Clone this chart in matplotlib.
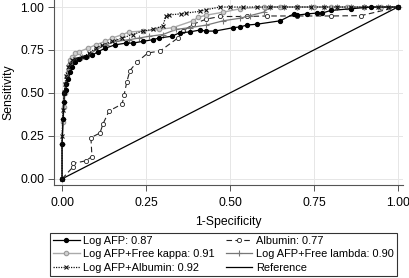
import matplotlib
matplotlib.use("Agg")
import matplotlib.pyplot as plt

plt.rcParams['font.family'] = ['Liberation Sans', 'DejaVu Sans']

# ROC points (1-specificity, sensitivity)
fpr_logafp = [0, 0, 0.003, 0.006, 0.006, 0.012, 0.012, 0.018, 0.024, 0.03, 0.04, 0.05, 0.07, 0.09,
              0.107, 0.128, 0.158, 0.19, 0.21, 0.24, 0.27, 0.29, 0.327, 0.35, 0.38, 0.41, 0.43, 0.455,
              0.51, 0.53, 0.55, 0.58, 0.65, 0.69, 0.70, 0.73, 0.76, 0.775, 0.80, 0.86, 0.92, 1.0]
tpr_logafp = [0, 0.2, 0.35, 0.45, 0.5, 0.52, 0.55, 0.58, 0.62, 0.65, 0.68, 0.70, 0.71, 0.72,
              0.74, 0.76, 0.78, 0.79, 0.79, 0.80, 0.81, 0.82, 0.83, 0.85, 0.855, 0.866, 0.86, 0.86,
              0.88, 0.884, 0.895, 0.90, 0.92, 0.96, 0.953, 0.96, 0.965, 0.965, 0.98, 0.99, 1.0, 1.0]

fpr_alb = [0, 0.0, 0.033, 0.033, 0.071, 0.089, 0.086, 0.113, 0.122, 0.14, 0.179, 0.185, 0.193,
           0.202, 0.223, 0.256, 0.292, 0.345, 0.36, 0.39, 0.43, 0.47, 0.55, 0.61, 0.70, 0.80, 0.89, 1.0]
tpr_alb = [0, 0.0, 0.07, 0.09, 0.105, 0.13, 0.24, 0.267, 0.32, 0.395, 0.436, 0.49, 0.565,
           0.63, 0.68, 0.733, 0.744, 0.82, 0.86, 0.90, 0.93, 0.945, 0.945, 0.948, 0.948, 0.948, 0.95, 1.0]

fpr_kappa = [0, 0, 0.003, 0.006, 0.009, 0.012, 0.015, 0.02, 0.025, 0.03, 0.04, 0.05, 0.077, 0.10,
             0.128, 0.15, 0.18, 0.20, 0.24, 0.29, 0.33, 0.39, 0.405, 0.43, 0.48, 0.53, 0.6, 0.65,
             0.7, 0.75, 0.8, 0.85, 0.9, 0.95, 1.0]
tpr_kappa = [0, 0.2, 0.33, 0.42, 0.5, 0.55, 0.6, 0.66, 0.69, 0.71, 0.73, 0.74, 0.76, 0.78,
             0.80, 0.82, 0.84, 0.855, 0.86, 0.87, 0.88, 0.92, 0.94, 0.953, 0.97, 0.99, 1.0, 1.0,
             1.0, 1.0, 1.0, 1.0, 1.0, 1.0, 1.0]

fpr_lambda = [0, 0, 0.003, 0.006, 0.009, 0.012, 0.018, 0.024, 0.03, 0.04, 0.06, 0.08, 0.10, 0.13,
              0.16, 0.20, 0.23, 0.26, 0.3, 0.34, 0.38, 0.43, 0.48, 0.53, 0.56, 0.6, 0.62, 0.66,
              0.7, 0.74, 0.78, 0.82, 0.86, 0.9, 0.94, 0.97, 1.0]
tpr_lambda = [0, 0.2, 0.35, 0.45, 0.52, 0.56, 0.62, 0.66, 0.68, 0.70, 0.71, 0.72, 0.75, 0.78,
              0.80, 0.81, 0.82, 0.83, 0.84, 0.87, 0.88, 0.895, 0.92, 0.935, 0.95, 0.97, 1.0, 1.0,
              1.0, 1.0, 1.0, 1.0, 1.0, 1.0, 1.0, 1.0, 1.0]

fpr_afpalb = [0, 0, 0.003, 0.006, 0.009, 0.012, 0.018, 0.024, 0.03, 0.04, 0.06, 0.08, 0.10, 0.12,
              0.15, 0.18, 0.21, 0.24, 0.27, 0.30, 0.31, 0.32, 0.355, 0.37, 0.41, 0.43, 0.47, 0.5,
              0.54, 0.58, 0.62, 0.66, 0.7, 0.74, 0.78, 0.82, 0.86, 0.9, 0.94, 0.97, 1.0]
tpr_afpalb = [0, 0.25, 0.4, 0.5, 0.55, 0.6, 0.65, 0.67, 0.69, 0.70, 0.71, 0.73, 0.76, 0.78,
              0.80, 0.82, 0.84, 0.86, 0.87, 0.89, 0.95, 0.955, 0.96, 0.965, 0.975, 0.985, 1.0, 1.0,
              1.0, 1.0, 1.0, 1.0, 1.0, 1.0, 1.0, 1.0, 1.0, 1.0, 1.0, 1.0, 1.0]

ref_x = [0, 1]
ref_y = [0, 1]

labels = ["Log AFP: 0.87", "Albumin: 0.77", "Log AFP+Free kappa: 0.91",
          "Log AFP+Free lambda: 0.90", "Log AFP+Albumin: 0.92", "Reference"]
ticks = [0.0, 0.25, 0.5, 0.75, 1.0]
tick_labels = ["0.00", "0.25", "0.50", "0.75", "1.00"]

fig = plt.figure(figsize=(4.09, 2.78), dpi=100)
ax = fig.add_axes([0.132, 0.335, 0.853, 0.665])
ax.set_xlim(-0.024, 1.015)
ax.set_ylim(-0.035, 1.041)

ax.grid(True, color='#e6e6e6', linewidth=0.7)
ax.set_axisbelow(True)

h_ref, = ax.plot(ref_x, ref_y, color='black', lw=0.9, zorder=2)
h_alb, = ax.plot(fpr_alb, tpr_alb, color='#222222', lw=0.8, ls=(0, (5, 3)),
                 marker='o', ms=3, mfc='white', mec='#222222', mew=0.6, zorder=3)
h_lam, = ax.plot(fpr_lambda, tpr_lambda, color='#777777', lw=0.9, marker='+', ms=4,
                 mew=0.8, zorder=4)
h_kap, = ax.plot(fpr_kappa, tpr_kappa, color='#aaaaaa', lw=1.0, marker='o', ms=3.2,
                 mfc='#d0d0d0', mec='#9a9a9a', mew=0.8, zorder=5)
h_afp, = ax.plot(fpr_logafp, tpr_logafp, color='black', lw=0.9, marker='o', ms=2.8,
                 mfc='black', mec='black', zorder=6)
h_aa, = ax.plot(fpr_afpalb, tpr_afpalb, color='#111111', lw=0.9, ls=(0, (1, 1)),
                marker='x', ms=2.5, mew=0.8, zorder=7)

for s in ['top', 'right']:
    ax.spines[s].set_visible(False)
for s in ['left', 'bottom']:
    ax.spines[s].set_color('#555555')
    ax.spines[s].set_linewidth(0.8)

ax.set_xticks(ticks)
ax.set_xticklabels(tick_labels)
ax.set_yticks(ticks)
ax.set_yticklabels(tick_labels)
ax.tick_params(axis='both', direction='out', length=4, width=0.7, color='#555555',
               labelsize=8.8)
ax.tick_params(axis='x', pad=5)
ax.tick_params(axis='y', pad=3)
ax.set_xlabel("1-Specificity", fontsize=8.8, labelpad=5)
ax.set_ylabel("Sensitivity", fontsize=8.8, labelpad=4)

handles = [h_afp, h_kap, h_aa, h_alb, h_lam, h_ref]
leg_labels = [labels[0], labels[2], labels[4], labels[1], labels[3], labels[5]]
leg = fig.legend(handles, leg_labels, loc='upper left', bbox_to_anchor=(0.122, 0.163),
                 ncol=2, fontsize=7.9, frameon=True, fancybox=False, edgecolor='black',
                 handlelength=2.4, handletextpad=0.35, columnspacing=1.0, labelspacing=0.3,
                 borderpad=0.3, borderaxespad=0)
leg.get_frame().set_linewidth(0.8)

fig.savefig("out.png", dpi=100)
